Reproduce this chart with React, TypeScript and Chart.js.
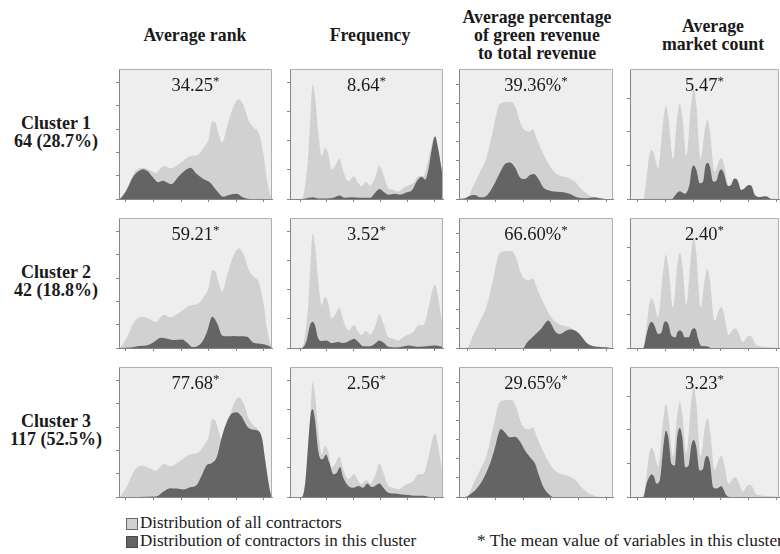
import React, { useEffect, useRef } from "react";
import { Chart, registerables } from "chart.js";
Chart.register(...registerables);

// ---------- DATA ----------
const COLUMN_TITLES = [["Average rank"], ["Frequency"], ["Average percentage", "of green revenue", "to total revenue"], ["Average", "market count"]];
const CLUSTER_NAMES = ["Cluster 1", "Cluster 2", "Cluster 3"];
const CLUSTER_SIZES = ["64 (28.7%)", "42 (18.8%)", "117 (52.5%)"];

const RANK_MEANS = ["34.25", "59.21", "77.68"];
const FREQ_MEANS = ["8.64", "3.52", "2.56"];
const GREEN_MEANS = ["39.36%", "66.60%", "29.65%"];
const MARKET_MEANS = ["5.47", "2.40", "3.23"];

const LEGEND_ALL = "Distribution of all contractors";
const LEGEND_CLUSTER = "Distribution of contractors in this cluster";
const FOOTNOTE = "* The mean value of variables in this cluster";

// Average rank
const RANK_X_TICKS = [0, 20, 40, 60, 80, 100];
const RANK_Y_TICKS = [0, 0.5, 1, 1.5, 2, 2.5];
const RANK_ALL_X = [-5, -3.8, 1.0, 5.9, 11.9, 18.0, 21.5, 27.5, 32.4, 39.6, 46.8, 51.7, 56.5, 60.2, 62.6, 64.9, 67.4, 69.8, 73.5, 78.3, 81.9, 85.5, 89.1, 92.7, 96.3, 100.0, 102.3, 104.8, 106];
const RANK_ALL_Y = [0, 0.02, 0.24, 0.56, 0.67, 0.61, 0.56, 0.71, 0.66, 0.78, 0.92, 0.94, 1.10, 1.31, 1.67, 1.64, 1.39, 1.21, 1.57, 2.00, 2.14, 2.00, 1.68, 1.53, 1.42, 0.93, 0.42, 0.09, 0];
const RANK_C1_X = [-5, -4.0, 0.3, 5.2, 8.8, 12.5, 16.1, 19.7, 23.4, 27.0, 29.4, 33.1, 37.9, 42.8, 46.9, 51.2, 56.1, 60.9, 65.8, 70.6, 75.5, 80.3, 84.0, 87.6, 92.4, 106];
const RANK_C1_Y = [0, 0.01, 0.18, 0.47, 0.59, 0.64, 0.59, 0.46, 0.36, 0.39, 0.36, 0.32, 0.47, 0.61, 0.67, 0.54, 0.43, 0.36, 0.18, 0.05, 0.09, 0.11, 0.05, 0.01, 0, 0];
const RANK_C2_X = [-5, 3.4, 8.3, 15.5, 20.3, 25.2, 30.0, 34.8, 40.8, 44.5, 48.1, 51.7, 55.3, 58.9, 62.6, 66.2, 69.8, 73.4, 78.2, 83.1, 87.9, 92.7, 97.6, 102.4, 105.3, 106];
const RANK_C2_Y = [0, 0.01, 0.04, 0.06, 0.13, 0.22, 0.20, 0.17, 0.18, 0.11, 0.02, 0.04, 0.13, 0.35, 0.67, 0.53, 0.27, 0.25, 0.26, 0.25, 0.24, 0.11, 0.09, 0.06, 0.02, 0];
const RANK_C3_X = [-5, 22.2, 27.1, 31.9, 36.8, 41.6, 46.5, 51.4, 55.0, 58.6, 62.3, 65.9, 69.6, 73.2, 76.9, 80.5, 84.1, 87.8, 91.4, 95.1, 98.7, 101.1, 103.6, 105.3, 106];
const RANK_C3_Y = [0, 0.01, 0.11, 0.19, 0.18, 0.16, 0.21, 0.26, 0.46, 0.68, 0.73, 0.86, 1.29, 1.61, 1.79, 1.82, 1.72, 1.52, 1.45, 1.43, 1.27, 0.79, 0.29, 0.04, 0];

// Frequency
const FREQ_X_TICKS = [0, 2, 4, 6, 8, 10];
const FREQ_Y_TICKS = [0, 0.1, 0.2, 0.3, 0.4];
const FREQ_ALL_X = [-0.75, 0.12, 0.37, 0.62, 0.79, 0.94, 1.11, 1.36, 1.61, 1.86, 2.11, 2.35, 2.60, 2.93, 3.22, 3.60, 4.02, 4.34, 4.59, 4.91, 5.21, 5.58, 5.91, 6.20, 6.58, 6.95, 7.32, 7.70, 8.07, 8.44, 8.81, 9.18, 9.56, 9.93, 10.08, 10.30, 10.55, 10.65];
const FREQ_ALL_Y = [0, 0, 0.044, 0.159, 0.297, 0.394, 0.354, 0.227, 0.147, 0.176, 0.153, 0.101, 0.113, 0.138, 0.095, 0.061, 0.078, 0.055, 0.044, 0.058, 0.046, 0.072, 0.115, 0.084, 0.038, 0.032, 0.026, 0.038, 0.046, 0.055, 0.078, 0.078, 0.136, 0.209, 0.216, 0.170, 0.101, 0.072];
const FREQ_C1_X = [-0.75, 0.20, 0.70, 0.95, 1.36, 1.98, 2.48, 2.93, 3.35, 3.85, 4.47, 5.21, 5.58, 5.91, 6.20, 6.58, 7.08, 7.45, 7.95, 8.32, 8.70, 9.07, 9.32, 9.56, 9.81, 10.06, 10.30, 10.55, 10.65];
const FREQ_C1_Y = [0, 0, 0.004, 0.006, 0.002, 0.002, 0.004, 0.012, 0.004, 0.006, 0.004, 0.004, 0.021, 0.034, 0.026, 0.015, 0.018, 0.015, 0.023, 0.029, 0.061, 0.076, 0.066, 0.101, 0.170, 0.214, 0.170, 0.101, 0.072];
const FREQ_C2_X = [-0.75, 0.12, 0.49, 0.74, 0.94, 1.11, 1.36, 1.61, 1.98, 2.35, 2.85, 3.22, 3.72, 4.02, 4.34, 4.72, 5.21, 5.58, 5.91, 6.26, 6.58, 7.08, 7.58, 8.07, 8.44, 8.94, 9.44, 10.06, 10.43, 10.65];
const FREQ_C2_Y = [0, 0, 0.026, 0.078, 0.090, 0.078, 0.032, 0.024, 0.026, 0.017, 0.021, 0.017, 0.026, 0.032, 0.021, 0.006, 0.006, 0.015, 0.026, 0.017, 0.004, 0.002, 0.004, 0.009, 0.006, 0.004, 0.006, 0.009, 0.006, 0.004];
const FREQ_C3_X = [-0.75, 0.12, 0.37, 0.62, 0.79, 0.94, 1.11, 1.36, 1.61, 1.78, 1.93, 2.18, 2.48, 2.73, 2.98, 3.22, 3.60, 3.97, 4.34, 4.72, 5.01, 5.33, 5.58, 5.91, 6.20, 6.58, 7.08, 7.58, 8.07, 8.57, 9.18, 9.68, 10.65];
const FREQ_C3_Y = [0, 0, 0.043, 0.192, 0.284, 0.301, 0.266, 0.158, 0.129, 0.135, 0.146, 0.118, 0.078, 0.083, 0.103, 0.066, 0.038, 0.032, 0.038, 0.032, 0.046, 0.034, 0.038, 0.046, 0.032, 0.015, 0.012, 0.009, 0.007, 0.004, 0.004, 0, 0];

// Green revenue share (%)
const GREEN_X_TICKS = [0, 20, 40, 60, 80, 100];
const GREEN_Y_TICKS = [0, 0.2, 0.4, 0.6, 0.8, 1.0, 1.2];
const GREEN_ALL_X = [-6.5, -0.9, 3.9, 8.7, 13.5, 18.4, 22.0, 25.6, 31.6, 34.8, 37.7, 41.3, 44.4, 46.9, 49.8, 53.4, 57.0, 60.6, 64.3, 67.9, 71.5, 75.1, 78.0, 81.0, 86.0, 90.8, 95.7, 105];
const GREEN_ALL_Y = [0, 0, 0.140, 0.281, 0.437, 0.737, 0.967, 1.012, 1.019, 0.949, 0.809, 0.720, 0.711, 0.731, 0.633, 0.510, 0.404, 0.316, 0.263, 0.239, 0.229, 0.205, 0.175, 0.120, 0.053, 0.018, 0, 0];
const GREEN_C1_X = [-6.5, -2.2, 1.4, 5.1, 8.7, 13.5, 18.4, 23.2, 26.8, 30.4, 34.1, 37.7, 41.3, 44.9, 47.8, 51.0, 54.6, 59.4, 64.3, 69.1, 73.9, 78.8, 83.6, 88.4, 92.0, 95.7, 100, 105];
const GREEN_C1_Y = [0, 0.007, 0.035, 0.042, 0.018, 0.035, 0.139, 0.278, 0.366, 0.383, 0.330, 0.226, 0.209, 0.251, 0.261, 0.209, 0.121, 0.087, 0.076, 0.070, 0.052, 0.018, 0.007, 0.014, 0.018, 0.007, 0, 0];
const GREEN_C2_X = [-6.5, 40.1, 42.5, 46.1, 49.8, 53.4, 57.0, 58.2, 59.9, 63.0, 66.7, 70.3, 73.9, 77.5, 81.2, 86.0, 90.8, 95.7, 100.5, 104.1, 105];
const GREEN_C2_Y = [0, 0, 0.053, 0.105, 0.158, 0.211, 0.281, 0.288, 0.263, 0.176, 0.147, 0.176, 0.194, 0.183, 0.140, 0.053, 0.018, 0.011, 0.007, 0, 0];
const GREEN_C3_X = [-6.5, -2.2, 1.4, 6.3, 11.1, 15.9, 19.6, 22.0, 23.7, 26.8, 30.4, 34.1, 37.2, 41.3, 44.9, 48.6, 51.0, 54.6, 58.2, 61.8, 105];
const GREEN_C3_Y = [0, 0, 0.027, 0.087, 0.191, 0.348, 0.522, 0.662, 0.713, 0.678, 0.626, 0.633, 0.592, 0.487, 0.417, 0.348, 0.244, 0.105, 0.035, 0, 0];

// Market count
const MARKET_X_TICKS = [0, 2, 4, 6, 8, 10];
const MARKET_Y_TICKS = [0, 0.1, 0.2, 0.3];
const MARKET_ALL_X = [-0.55, 0.40, 0.65, 0.82, 1.00, 1.18, 1.48, 1.86, 2.04, 2.22, 2.56, 2.86, 3.04, 3.22, 3.52, 3.87, 4.05, 4.23, 4.55, 4.86, 5.04, 5.22, 5.56, 5.86, 6.04, 6.22, 6.57, 6.87, 7.05, 7.23, 7.60, 7.90, 8.08, 8.26, 8.56, 9.04, 9.64, 10.2];
const MARKET_ALL_Y = [0, 0, 0.066, 0.125, 0.147, 0.135, 0.091, 0.237, 0.278, 0.243, 0.120, 0.248, 0.284, 0.250, 0.130, 0.286, 0.330, 0.284, 0.120, 0.210, 0.236, 0.202, 0.081, 0.113, 0.122, 0.104, 0.039, 0.055, 0.059, 0.049, 0.017, 0.033, 0.037, 0.031, 0.008, 0.004, 0.002, 0];
const MARKET_C1_X = [-0.55, 2.44, 2.80, 3.04, 3.40, 3.76, 3.89, 4.05, 4.23, 4.48, 4.72, 4.88, 5.04, 5.22, 5.44, 5.68, 5.88, 6.04, 6.22, 6.52, 6.76, 6.89, 7.05, 7.23, 7.48, 7.72, 7.92, 8.08, 8.26, 8.44, 8.80, 9.28, 9.64, 10.2];
const MARKET_C1_Y = [0, 0, 0.016, 0.023, 0.016, 0.047, 0.088, 0.100, 0.088, 0.047, 0.052, 0.096, 0.108, 0.096, 0.052, 0.054, 0.081, 0.088, 0.077, 0.039, 0.042, 0.057, 0.061, 0.054, 0.027, 0.032, 0.040, 0.042, 0.036, 0.013, 0.006, 0.008, 0, 0];
const MARKET_C2_X = [-0.55, 0.40, 0.65, 0.82, 1.00, 1.18, 1.48, 1.73, 1.88, 2.04, 2.22, 2.44, 2.73, 2.88, 3.04, 3.22, 3.40, 3.69, 3.89, 4.05, 4.23, 4.36, 4.60, 4.96, 5.32, 10.2];
const MARKET_C2_Y = [0, 0, 0.042, 0.068, 0.078, 0.070, 0.042, 0.047, 0.073, 0.080, 0.071, 0.037, 0.032, 0.048, 0.052, 0.048, 0.032, 0.032, 0.053, 0.059, 0.052, 0.028, 0.006, 0.005, 0, 0];
const MARKET_C3_X = [-0.55, 0.40, 0.65, 0.82, 1.00, 1.18, 1.36, 1.60, 1.88, 2.04, 2.22, 2.44, 2.68, 2.86, 3.04, 3.22, 3.44, 3.68, 3.87, 4.05, 4.23, 4.48, 4.72, 4.86, 5.04, 5.22, 5.44, 5.68, 6.04, 6.40, 6.64, 10.2];
const MARKET_C3_Y = [0, 0, 0.040, 0.058, 0.067, 0.061, 0.040, 0.050, 0.160, 0.198, 0.176, 0.099, 0.094, 0.181, 0.206, 0.180, 0.089, 0.094, 0.153, 0.170, 0.150, 0.079, 0.084, 0.114, 0.122, 0.102, 0.030, 0.025, 0.032, 0.005, 0, 0];

// ---------- STYLE / LAYOUT ----------
const LIGHT = "#d1d1d1";
const DARK = "#646464";
const PANEL_BG = "#eeeeee";
const AXIS = "#858585";
const FRAME = "#b0b0b0";
const TEXT = "#1a1a1a";
const FONT = '"Liberation Serif", "Times New Roman", Times, serif';

const COLS = [
  { l: 119, r: 272, min: -5, max: 106, yMax: 2.79, xTicks: RANK_X_TICKS, yTicks: RANK_Y_TICKS, all: [RANK_ALL_X, RANK_ALL_Y], clusters: [[RANK_C1_X, RANK_C1_Y], [RANK_C2_X, RANK_C2_Y], [RANK_C3_X, RANK_C3_Y]], means: RANK_MEANS, titleCx: 195, titleTop: 26 },
  { l: 290, r: 443, min: -0.75, max: 10.65, yMax: 0.446, xTicks: FREQ_X_TICKS, yTicks: FREQ_Y_TICKS, all: [FREQ_ALL_X, FREQ_ALL_Y], clusters: [[FREQ_C1_X, FREQ_C1_Y], [FREQ_C2_X, FREQ_C2_Y], [FREQ_C3_X, FREQ_C3_Y]], means: FREQ_MEANS, titleCx: 370, titleTop: 26 },
  { l: 459, r: 613, min: -6.5, max: 105, yMax: 1.364, xTicks: GREEN_X_TICKS, yTicks: GREEN_Y_TICKS, all: [GREEN_ALL_X, GREEN_ALL_Y], clusters: [[GREEN_C1_X, GREEN_C1_Y], [GREEN_C2_X, GREEN_C2_Y], [GREEN_C3_X, GREEN_C3_Y]], means: GREEN_MEANS, titleCx: 537, titleTop: 8 },
  { l: 630, r: 779, min: -0.55, max: 10.2, yMax: 0.388, xTicks: MARKET_X_TICKS, yTicks: MARKET_Y_TICKS, all: [MARKET_ALL_X, MARKET_ALL_Y], clusters: [[MARKET_C1_X, MARKET_C1_Y], [MARKET_C2_X, MARKET_C2_Y], [MARKET_C3_X, MARKET_C3_Y]], means: MARKET_MEANS, titleCx: 713, titleTop: 17 },
];
const ROWS = [
  { t: 69, b: 199 },
  { t: 218, b: 348 },
  { t: 367, b: 497 },
];

const toPoints = (xs: number[], ys: number[]) => xs.map((x, i) => ({ x, y: ys[i] }));

const panelPlugin = {
  id: "panelFrame",
  beforeDraw(chart: any) {
    const { ctx, chartArea } = chart;
    const { left, top, right, bottom } = chartArea;
    ctx.save();
    ctx.fillStyle = PANEL_BG;
    ctx.fillRect(left, top, right - left, bottom - top);
    ctx.restore();
  },
  afterDraw(chart: any) {
    const { ctx, chartArea } = chart;
    const { left, top, right, bottom } = chartArea;
    ctx.save();
    ctx.strokeStyle = FRAME;
    ctx.lineWidth = 1;
    ctx.beginPath();
    ctx.moveTo(left, top + 0.5);
    ctx.lineTo(right - 0.5, top + 0.5);
    ctx.lineTo(right - 0.5, bottom);
    ctx.stroke();
    ctx.restore();
  },
};

function Panel({ ci, ri }: { ci: number; ri: number }) {
  const ref = useRef<HTMLCanvasElement>(null);
  const col = COLS[ci];
  const row = ROWS[ri];
  const w = col.r - col.l + 5;
  const h = row.b - row.t + 5;
  useEffect(() => {
    const [cx, cy] = col.clusters[ri];
    const common = {
      fill: "origin",
      borderColor: "rgba(0,0,0,0)",
      borderWidth: 0,
      pointRadius: 0,
      pointHoverRadius: 0,
      cubicInterpolationMode: "monotone" as const,
    };
    const chart = new Chart(ref.current as HTMLCanvasElement, {
      type: "line",
      data: {
        datasets: [
          { ...common, label: LEGEND_ALL, data: toPoints(col.all[0], col.all[1]), backgroundColor: LIGHT, order: 2 },
          { ...common, label: LEGEND_CLUSTER, data: toPoints(cx, cy), backgroundColor: DARK, order: 1 },
        ],
      } as any,
      options: {
        responsive: false,
        maintainAspectRatio: false,
        animation: false,
        devicePixelRatio: 1,
        events: [],
        layout: { padding: { top: 1, right: 1, left: 0, bottom: 0 } },
        plugins: { legend: { display: false }, tooltip: { enabled: false }, title: { display: false } },
        scales: {
          x: {
            type: "linear",
            min: col.min,
            max: col.max,
            afterBuildTicks: (s: any) => {
              s.ticks = col.xTicks.map((v) => ({ value: v }));
            },
            afterFit: (s: any) => {
              s.height = 4;
            },
            ticks: { display: false },
            grid: { display: true, drawOnChartArea: false, drawTicks: true, tickLength: 3, color: AXIS },
            border: { display: true, color: AXIS, width: 1 },
          },
          y: {
            type: "linear",
            min: 0,
            max: col.yMax,
            afterBuildTicks: (s: any) => {
              s.ticks = col.yTicks.map((v) => ({ value: v }));
            },
            afterFit: (s: any) => {
              s.width = 4;
            },
            ticks: { display: false },
            grid: { display: true, drawOnChartArea: false, drawTicks: true, tickLength: 3, color: AXIS },
            border: { display: true, color: AXIS, width: 1 },
          },
        },
      } as any,
      plugins: [panelPlugin],
    });
    return () => chart.destroy();
  }, []);
  return (
    <canvas
      ref={ref}
      width={w}
      height={h}
      style={{ position: "absolute", left: col.l - 4, top: row.t - 1, width: w, height: h }}
    />
  );
}

export default function App() {
  return (
    <div
      style={{
        position: "fixed",
        left: 0,
        top: 0,
        width: 780,
        height: 554,
        background: "#ffffff",
        overflow: "hidden",
        fontFamily: FONT,
        color: TEXT,
      }}
    >
      {COLS.map((c, ci) => (
        <div
          key={"t" + ci}
          style={{
            position: "absolute",
            left: c.titleCx - 100,
            width: 200,
            top: c.titleTop,
            textAlign: "center",
            fontWeight: "bold",
            fontSize: 17.8,
            lineHeight: "18px",
          }}
        >
          {COLUMN_TITLES[ci].map((line, i) => (
            <div key={i}>{line}</div>
          ))}
        </div>
      ))}

      {ROWS.map((r, ri) => (
        <div
          key={"r" + ri}
          style={{
            position: "absolute",
            left: 0,
            width: 112,
            top: (r.t + r.b) / 2 - 2 - 18,
            textAlign: "center",
            fontWeight: "bold",
            fontSize: 18,
            lineHeight: "18px",
          }}
        >
          <div>{CLUSTER_NAMES[ri]}</div>
          <div>{CLUSTER_SIZES[ri]}</div>
        </div>
      ))}

      {ROWS.map((_, ri) => COLS.map((__, ci) => <Panel key={ri + "-" + ci} ci={ci} ri={ri} />))}

      {ROWS.map((r, ri) =>
        COLS.map((c, ci) => (
          <div
            key={"m" + ri + "-" + ci}
            style={{
              position: "absolute",
              left: c.l,
              width: c.r - c.l,
              top: r.t + 7,
              textAlign: "center",
              fontSize: 18.5,
              lineHeight: "18px",
              whiteSpace: "nowrap",
            }}
          >
            {c.means[ri]}
            <span style={{ fontSize: 13, position: "relative", top: -6 }}>*</span>
          </div>
        ))
      )}

      <div style={{ position: "absolute", left: 126, top: 518, width: 10, height: 10, background: LIGHT, border: "1px solid #6a6a6a" }} />
      <div style={{ position: "absolute", left: 126, top: 536, width: 10, height: 10, background: DARK, border: "1px solid #4a4a4a" }} />
      <div style={{ position: "absolute", left: 140, top: 514, fontSize: 17, lineHeight: "18px", whiteSpace: "nowrap" }}>{LEGEND_ALL}</div>
      <div style={{ position: "absolute", left: 140, top: 532, fontSize: 17, lineHeight: "18px", whiteSpace: "nowrap" }}>{LEGEND_CLUSTER}</div>
      <div style={{ position: "absolute", left: 477, top: 532, fontSize: 17.3, lineHeight: "18px", whiteSpace: "nowrap" }}>{FOOTNOTE}</div>
    </div>
  );
}
